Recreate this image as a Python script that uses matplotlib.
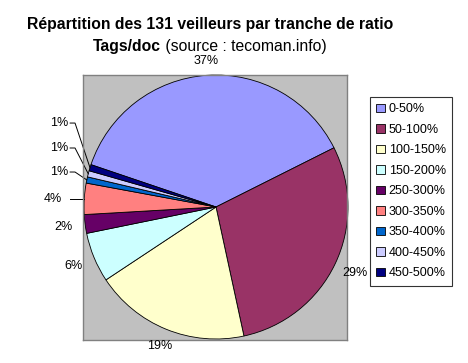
import matplotlib
matplotlib.use("Agg")
import matplotlib.pyplot as plt
from matplotlib.patches import Patch
import numpy as np

plt.rcParams['font.family'] = ['Liberation Sans', 'DejaVu Sans']

categories = ['0-50%', '50-100%', '100-150%', '150-200%', '250-300%',
              '300-350%', '350-400%', '400-450%', '450-500%']
counts = [49, 38, 25, 8, 3, 5, 1, 1, 1]
colors = ['#9999FF', '#993366', '#FFFFCC', '#CCFFFF', '#660066',
          '#FF8080', '#0066CC', '#CCCCFF', '#000080']
title1 = 'Répartition des 131 veilleurs par tranche de ratio'
title2_bold = 'Tags/doc'
title2_reg = ' (source : tecoman.info)'

W, H = 468, 363
fig = plt.figure(figsize=(W / 100, H / 100), dpi=100)
fig.patch.set_facecolor('white')

# plot area in pixel coords (top-down)
L, R, T, B = 83, 347, 75, 340
ax = fig.add_axes([L / W, 1 - B / H, (R - L) / W, (B - T) / H])
ax.set_facecolor('#C0C0C0')
for s in ax.spines.values():
    s.set_color('#808080')
    s.set_linewidth(1.0)

cx, cy, r = 216, H - 207, 132
start = 161.3
wedges, _ = ax.pie(counts, colors=colors, startangle=start, counterclock=False,
                   center=(cx, cy), radius=r, frame=True,
                   wedgeprops=dict(edgecolor='black', linewidth=0.6))
ax.set_xlim(L, R)
ax.set_ylim(H - B, H - T)
ax.set_xticks([])
ax.set_yticks([])

total = sum(counts)
pcts = [f'{round(100 * c / total):.0f}%' for c in counts]
fs = 9

# labels: default outside at mid-angle, small slices with leader lines
leader = {  # index -> label y offset (in radii)
    8: 0.636, 7: 0.447, 6: 0.265,
}
for i, w in enumerate(wedges):
    mid = np.deg2rad((w.theta1 + w.theta2) / 2)
    ex, ey = cx + r * np.cos(mid), cy + r * np.sin(mid)
    if i in leader:
        ly = cy + leader[i] * r
        lx = cx - 1.19 * r
        ax.plot([cx - 1.105 * r, cx - 1.068 * r, ex], [ly, ly, ey],
                color='black', lw=0.7, clip_on=False)
        ax.text(lx, ly, pcts[i], ha='center', va='center', fontsize=fs,
                clip_on=False)
    elif i == 5:
        lx = cx - 1.24 * r
        ax.plot([cx - 1.105 * r, ex], [ey, ey], color='black', lw=0.7,
                clip_on=False)
        ax.text(lx, ey, pcts[i], ha='center', va='center', fontsize=fs,
                clip_on=False)
    else:
        d = r + 9 + abs(np.cos(mid)) * 12 + abs(np.sin(mid)) * 5
        ax.text(cx + d * np.cos(mid), cy + d * np.sin(mid), pcts[i],
                ha='center', va='center', fontsize=fs, clip_on=False)

# legend
handles = [Patch(facecolor=c, edgecolor='black', linewidth=0.6) for c in colors]
leg = fig.legend(handles, categories, loc='upper left',
                 bbox_to_anchor=(370 / W, 1 - 97 / H), borderaxespad=0,
                 fontsize=fs, frameon=True, fancybox=False, shadow=False,
                 handlelength=0.7, handleheight=0.7, handletextpad=0.3,
                 labelspacing=0.68, borderpad=0.5)
leg.get_frame().set_edgecolor('black')
leg.get_frame().set_linewidth(0.8)

# title
tfs = 11.3
fig.text(210 / W, 1 - 24 / H, title1, ha='center', va='center',
         fontsize=tfs, fontweight='bold')
rend = fig.canvas.get_renderer()
t1 = fig.text(0, 1 - 46 / H, title2_bold, ha='left', va='center',
              fontsize=tfs, fontweight='bold')
t2 = fig.text(0, 1 - 46 / H, title2_reg, ha='left', va='center',
              fontsize=tfs)
w1 = t1.get_window_extent(rend).width
w2 = t2.get_window_extent(rend).width
x0 = 210 - (w1 + w2) / 2
t1.set_x(x0 / W)
t2.set_x((x0 + w1) / W)

fig.savefig('out.png', dpi=100, facecolor='white')
